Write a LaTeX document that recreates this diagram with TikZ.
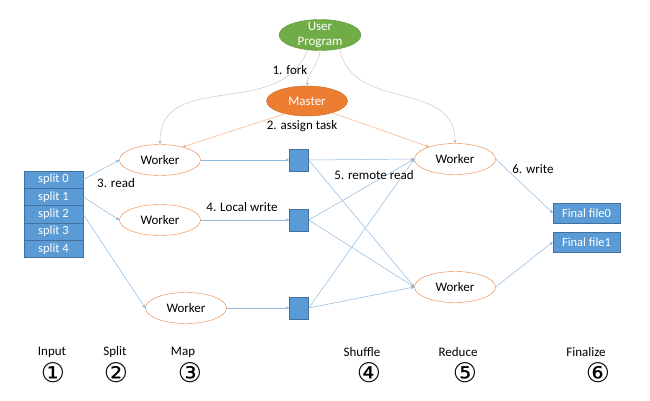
\documentclass[tikz,border=0pt]{standalone}
\usepackage{fontspec}
\setmainfont{Carlito}
\newfontfamily\circfont{DejaVu Sans}
\usetikzlibrary{positioning, arrows.meta, shapes.geometric}
\definecolor{mrGreen}{HTML}{70AD47}
\definecolor{mrOrange}{HTML}{ED7D31}
\definecolor{mrBlue}{HTML}{5B9BD5}
\definecolor{mrBlueDark}{HTML}{41719C}
\definecolor{mrGrey}{HTML}{C8C8C8}
\tikzset{
  worker/.style={ellipse, draw=mrOrange, fill=white, minimum width=81pt, minimum height=31pt, inner sep=0pt, font=\fontsize{13}{14}\selectfont},
  bossnode/.style={ellipse, fill=mrOrange, draw=mrOrange!85!black, minimum width=81pt, minimum height=30pt, inner sep=0pt, text=white, font=\fontsize{13}{14}\selectfont},
  usernode/.style={ellipse, fill=mrGreen, draw=mrGreen!85!black, minimum width=82pt, minimum height=31pt, inner sep=-6pt, text=white, align=center, font=\fontsize{13}{15}\selectfont},
  splitbox/.style={rectangle, fill=mrBlue, draw=mrBlueDark, line width=0.4pt, minimum width=59pt, minimum height=17.3pt, inner sep=0pt, text=white, font=\fontsize{12.5}{13}\selectfont},
  filebox/.style={rectangle, fill=mrBlue, draw=mrBlueDark, line width=0.4pt, minimum width=67pt, minimum height=20pt, inner sep=0pt, text=white, font=\fontsize{12.5}{13}\selectfont},
  midbox/.style={rectangle, fill=mrBlue, draw=mrBlueDark, line width=0.4pt, minimum width=19pt, minimum height=22pt, inner sep=0pt},
  flow/.style={draw=mrBlue!70, line width=0.5pt, -{Triangle[length=3pt,width=3pt]}},
  order/.style={draw=mrOrange!60, line width=0.5pt, -{Triangle[length=3pt,width=3pt]}},
  forkline/.style={draw=mrGrey, line width=0.5pt, -{Triangle[length=3pt,width=3pt,fill=gray]}},
  steplabel/.style={font=\fontsize{13}{14}\selectfont, inner sep=1pt},
  phaselabel/.style={font=\fontsize{13}{14}\selectfont, inner sep=1pt},
  phasenum/.style={font=\circfont\fontsize{27}{28}\selectfont, inner sep=0pt}
}
\begin{document}
\begin{tikzpicture}[x=1pt, y=-1pt]
  \useasboundingbox (0,0) rectangle (650,401);
  % control
  \node[usernode] (user) at (320,35) {User\\Program};
  \node[bossnode] (master) at (307,101) {Master};
  % map workers
  \node[worker] (w1) at (160,160) {Worker};
  \node[worker] (w2) at (160,220) {Worker};
  \node[worker] (w3) at (186,308) {Worker};
  % reduce workers
  \node[worker] (r1) at (455,159) {Worker};
  \node[worker] (r2) at (455,287) {Worker};
  % intermediate files
  \node[midbox] (b1) at (299,160) {};
  \node[midbox] (b2) at (299,220) {};
  \node[midbox] (b3) at (299,308) {};
  % input splits
  \foreach \i in {0,...,4}
    \node[splitbox] (s\i) at (53.5,179.6+\i*17.3) {split \i};
  % output files
  \node[filebox] (f0) at (586.5,213) {Final file0};
  \node[filebox] (f1) at (586.5,242) {Final file1};
  % fork
  \draw[forkline] (user.south) to[out=-95,in=85] (master.north);
  \draw[forkline] (user.-130) to[out=-110,in=90,looseness=1.1] (w1.north);
  \draw[forkline] (user.-35) to[out=-80,in=90,looseness=1.1] (r1.north);
  % assign task
  \draw[order] (master.-150) -- (w1.30);
  \draw[order] (master.-25) -- (r1.155);
  % read
  \draw[flow] (s0.east) -- (w1.west);
  \draw[flow] (s1.east) -- (w2.west);
  \draw[flow] (s2.east) -- (w3.west);
  % local write
  \draw[flow] (w1.east) -- (b1.west);
  \draw[flow] (w2.east) -- (b2.west);
  \draw[flow] (w3.east) -- (b3.west);
  % remote read
  \foreach \m in {1,2,3}
    \foreach \r in {1,2}
      \draw[flow] (b\m.east) -- (r\r.west);
  % write
  \draw[flow] (r1.east) -- (f0.west);
  \draw[flow] (r2.east) -- (f1.west);
  % step labels
  \node[steplabel] (lfork) at (290,70) {1. fork};
  \node[steplabel] (lassign) at (302,126) {2. assign task};
  \node[steplabel] (lread) at (116,183) {3. read};
  \node[steplabel] (lwrite) at (242,207) {4. Local write};
  \node[steplabel] (lremote) at (374,175) {5. remote read};
  \node[steplabel] (lout) at (533,169) {6. write};
  % phases
  \foreach \name/\x/\cx/\n in {Input/52/53/①, Split/115/116/②, Map/183/190/③,
      Shuffle/362/369/④, Reduce/458/465/⑤, Finalize/586/598/⑥} {
    \node[phaselabel] (p\name) at (\x,352) {\name};
    \node[phasenum] (n\name) at (\cx,373) {\n};
  }
\end{tikzpicture}
\end{document}
